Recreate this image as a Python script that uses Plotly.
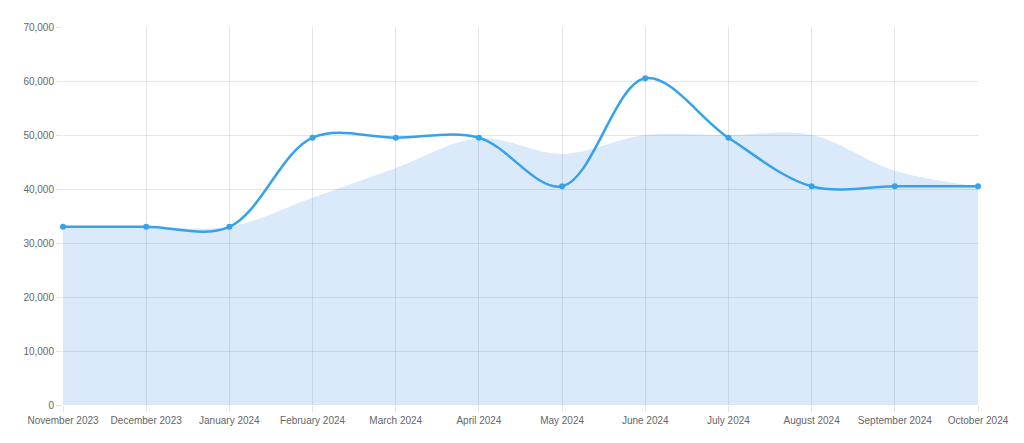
import plotly.graph_objects as go

months = ["November 2023", "December 2023", "January 2024", "February 2024", "March 2024",
          "April 2024", "May 2024", "June 2024", "July 2024", "August 2024",
          "September 2024", "October 2024"]
line_values = [33000, 33000, 33000, 49500, 49500, 49500, 40500, 60500, 49500, 40500, 40500, 40500]
area_values = [33000, 33000, 33000, 38400, 43900, 49400, 46500, 50000, 50000, 50000, 43400, 40500]

fig = go.Figure()
fig.add_trace(go.Scatter(
    x=months, y=area_values, mode="lines", fill="tozeroy",
    line=dict(width=0, shape="spline", smoothing=1.0),
    fillcolor="rgba(54,140,235,0.18)", hoverinfo="skip", showlegend=False,
))
fig.add_trace(go.Scatter(
    x=months, y=line_values, mode="lines+markers",
    line=dict(color="#36a2eb", width=2.5, shape="spline", smoothing=1.0),
    marker=dict(color="#36a2eb", size=6),
    cliponaxis=False, showlegend=False,
))

fig.update_layout(
    width=1024, height=443,
    margin=dict(l=63, r=46, t=27, b=38),
    paper_bgcolor="white", plot_bgcolor="white",
    font=dict(family="Liberation Sans, Arial, sans-serif", size=10, color="#666666"),
)
fig.update_xaxes(
    type="category", range=[0, 11], showgrid=True, gridcolor="rgba(0,0,0,0.1)", gridwidth=1,
    ticks="outside", ticklen=6, tickcolor="rgba(0,0,0,0.1)", showline=False, zeroline=False,
    tickfont=dict(size=10, color="#666666"),
)
fig.update_yaxes(
    range=[0, 70000], dtick=10000, tickformat=",", showgrid=True, gridcolor="rgba(0,0,0,0.1)",
    ticks="outside", ticklen=6, tickcolor="rgba(0,0,0,0.1)", showline=False, zeroline=False,
    tickfont=dict(size=10, color="#666666"),
)

fig.write_html("out.html")
